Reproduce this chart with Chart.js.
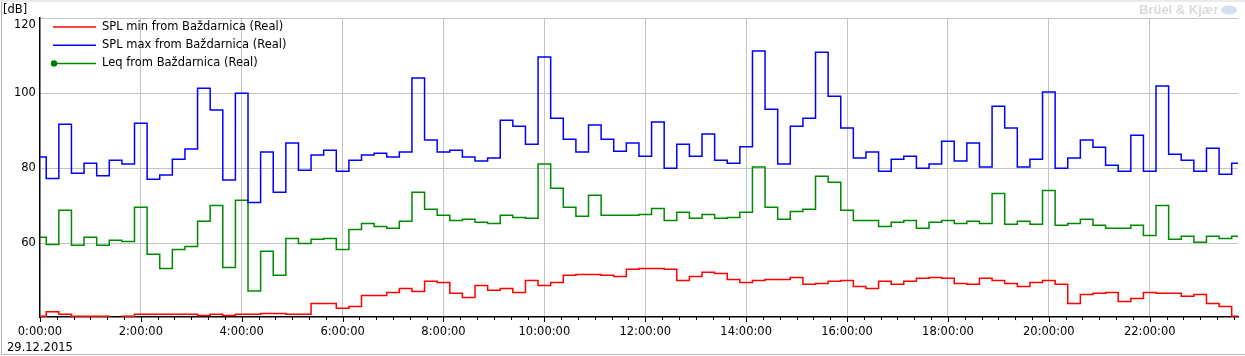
<!DOCTYPE html>
<html>
<head>
<meta charset="utf-8">
<title>SPL Baždarnica 29.12.2015</title>
<script src="https://cdn.jsdelivr.net/npm/chart.js@4.4.0/dist/chart.umd.min.js"></script>
<style>
    html, body { margin: 0; padding: 0; background: #fff; }
    #wrap { position: relative; width: 1245px; height: 356px; }
</style>
</head>
<body>
<div id="wrap"><canvas id="splChart" width="1245" height="356"></canvas></div>
<script>
// 15 minute intervals, day of 29.12.2015 (values in dB)
var dateLabel = "29.12.2015";
var unitLabel = "[dB]";
var stepMinutes = 15;
var yTicks = [60, 80, 100, 120];

var splMin = [
    40.6, 41.8, 41.1, 40.6, 40.6, 40.6, 40.2, 40.6, 41.1, 41.1, 41.1, 41.1,
    41.1, 40.8, 41.1, 40.8, 41.1, 41.1, 41.3, 41.3, 41.1, 41.1, 44.0, 44.0,
    42.7, 43.2, 46.1, 46.1, 46.9, 48.0, 47.2, 49.9, 49.6, 46.7, 45.6, 48.8,
    47.5, 48.0, 46.9, 50.1, 48.8, 49.6, 51.5, 51.7, 51.7, 51.5, 51.2, 53.1,
    53.3, 53.3, 53.1, 50.1, 51.2, 52.3, 52.0, 50.4, 49.6, 50.1, 50.4, 50.4,
    50.9, 49.1, 49.3, 49.9, 50.1, 48.5, 48.0, 49.9, 49.1, 49.9, 50.7, 50.9,
    50.7, 49.3, 49.1, 50.7, 50.1, 49.3, 48.5, 49.6, 50.1, 49.1, 44.0, 46.4,
    46.7, 46.9, 44.5, 45.3, 46.9, 46.7, 46.7, 45.9, 46.4, 44.0, 43.2, 40.6
];

var splMax = [
    83.0, 77.3, 91.7, 78.7, 81.3, 78.0, 82.1, 81.1, 92.0, 77.1, 78.2, 82.4,
    85.1, 101.3, 95.5, 76.9, 100.0, 70.9, 84.3, 73.6, 86.7, 79.5, 83.5, 84.8,
    79.2, 82.1, 83.5, 84.0, 83.0, 84.3, 104.0, 87.5, 84.3, 84.8, 83.0, 81.9,
    82.7, 92.8, 91.2, 86.4, 109.6, 93.3, 87.7, 84.3, 91.5, 87.7, 84.5, 86.7,
    83.2, 92.3, 80.0, 86.4, 83.2, 89.1, 82.1, 81.3, 85.7, 111.2, 95.7, 81.1,
    91.2, 93.3, 110.9, 99.2, 90.7, 82.7, 84.3, 79.2, 82.4, 83.2, 80.0, 81.1,
    87.2, 81.9, 86.7, 80.3, 96.5, 90.7, 80.3, 82.4, 100.3, 80.0, 82.7, 87.5,
    85.6, 80.8, 79.2, 88.8, 79.2, 101.9, 83.7, 82.1, 79.2, 85.3, 78.4, 81.3
];

var leq = [
    61.6, 59.7, 68.8, 59.5, 61.6, 59.5, 60.8, 60.5, 69.6, 57.1, 53.3, 58.4,
    59.2, 65.9, 70.1, 53.6, 71.5, 47.3, 57.9, 51.5, 61.3, 60.0, 61.1, 61.3,
    58.4, 63.7, 65.3, 64.5, 64.0, 65.9, 73.6, 69.1, 67.5, 66.1, 66.4, 65.6,
    65.3, 67.5, 66.9, 66.7, 81.1, 74.7, 69.6, 67.2, 72.8, 67.5, 67.5, 67.5,
    67.7, 69.3, 66.1, 68.3, 66.7, 67.7, 66.7, 66.9, 68.3, 80.3, 69.6, 66.4,
    68.5, 69.1, 77.9, 76.3, 68.8, 66.1, 66.1, 64.5, 65.6, 66.1, 64.0, 65.6,
    66.1, 65.3, 65.9, 65.3, 73.3, 65.1, 65.9, 65.1, 74.1, 64.8, 65.3, 66.4,
    64.8, 64.0, 64.0, 64.8, 62.1, 70.1, 61.1, 61.9, 60.3, 61.9, 61.3, 61.9
];

var seriesNames = [
    "SPL min from Baždarnica (Real)",
    "SPL max from Baždarnica (Real)",
    "Leq from Baždarnica (Real)"
];
var seriesColors = ["#ff0000", "#0000ff", "#008a00"];

var FONT = "DejaVu Sans";

function toPoints(values) {
    var pts = [];
    for (var i = 0; i < values.length; i++) {
        pts.push({ x: i * stepMinutes, y: values[i] });
    }
    return pts;
}

function timeLabel(minutes) {
    return Math.floor(minutes / 60) + ":00:00";
}

// legend in the top left corner of the plot, like the B&K software draws it
var bkLegend = {
    id: "bkLegend",
    afterDatasetsDraw: function (chart) {
        var ctx = chart.ctx;
        ctx.save();
        ctx.font = "11.5px '" + FONT + "'";
        ctx.textBaseline = "middle";
        ctx.textAlign = "left";
        chart.data.datasets.forEach(function (ds, i) {
            var y = 27 + i * 18.2;
            ctx.strokeStyle = ds.borderColor;
            ctx.lineWidth = 1.5;
            ctx.beginPath();
            ctx.moveTo(53, y);
            ctx.lineTo(96, y);
            ctx.stroke();
            if (i == 2) {
                ctx.fillStyle = "#007a00";
                ctx.beginPath();
                ctx.arc(54, y, 3.2, 0, Math.PI * 2);
                ctx.fill();
            }
            ctx.fillStyle = "#000";
            ctx.fillText(ds.label, 102, y);
        });
        ctx.restore();
    }
};

// frame, unit, watermark and the small ticks under the time axis
var decorations = {
    id: "decorations",
    beforeDraw: function (chart) {
        var ctx = chart.ctx;
        ctx.save();
        ctx.fillStyle = "#ebebeb";
        ctx.fillRect(0, 0, chart.width, 2);
        ctx.strokeStyle = "#b4b4b4";
        ctx.lineWidth = 1;
        ctx.beginPath();
        ctx.moveTo(1.5, 2);
        ctx.lineTo(1.5, 354.5);
        ctx.lineTo(chart.width, 354.5);
        ctx.stroke();

        ctx.fillStyle = "#000";
        ctx.font = "11.5px '" + FONT + "'";
        ctx.textBaseline = "middle";
        ctx.fillText(unitLabel, 3, 10);

        ctx.fillStyle = "#dadada";
        ctx.font = "bold 13px 'Liberation Sans'";
        ctx.fillText("Brüel & Kjær", 1139, 10);
        ctx.fillStyle = "#d3e0f2";
        ctx.beginPath();
        ctx.ellipse(1229, 10, 8, 4.5, 0, 0, Math.PI * 2);
        ctx.fill();
        ctx.restore();
    },
    afterDraw: function (chart) {
        var ctx = chart.ctx;
        var xs = chart.scales.x;
        var bottom = chart.chartArea.bottom;
        ctx.save();
        ctx.strokeStyle = "#000";
        ctx.lineWidth = 1;
        for (var m = 0; m <= xs.max; m += 20) {
            var px = Math.round(xs.getPixelForValue(m)) + 0.5;
            var len = (m % 120 == 0) ? 5 : 3;
            ctx.beginPath();
            ctx.moveTo(px, bottom);
            ctx.lineTo(px, bottom + len);
            ctx.stroke();
        }
        ctx.restore();
    }
};

var splChart = new Chart(document.getElementById("splChart"), {
    type: "line",
    data: {
        datasets: [
            { label: seriesNames[0], data: toPoints(splMin), borderColor: seriesColors[0] },
            { label: seriesNames[1], data: toPoints(splMax), borderColor: seriesColors[1] },
            { label: seriesNames[2], data: toPoints(leq), borderColor: seriesColors[2] }
        ]
    },
    options: {
        responsive: false,
        animation: false,
        events: [],
        layout: { padding: { top: 18, right: 0, left: 0, bottom: 0 } },
        elements: {
            line: { borderWidth: 1.5, stepped: "middle", tension: 0, fill: false },
            point: { radius: 0 }
        },
        plugins: {
            legend: { display: false },
            tooltip: { enabled: false }
        },
        scales: {
            x: {
                type: "linear",
                min: 0,
                max: (splMin.length - 1) * stepMinutes,
                afterFit: function (s) { s.height = 39; },
                grid: {
                    drawTicks: false,
                    color: function (c) {
                        return (c.tick && c.tick.value % 120 == 0) ? "#c4c4c4" : "rgba(0,0,0,0)";
                    }
                },
                border: { color: "#000", width: 1.5 },
                ticks: {
                    stepSize: 20,
                    autoSkip: false,
                    maxRotation: 0,
                    padding: 7,
                    color: "#000",
                    font: { family: FONT, size: 11.5, lineHeight: 1.4 },
                    callback: function (value) {
                        if (value % 120 != 0) return "";
                        if (value == 0) return [timeLabel(value), dateLabel];
                        return timeLabel(value);
                    }
                }
            },
            y: {
                min: 40.4,
                max: 120,
                afterFit: function (s) { s.width = 33; },
                afterBuildTicks: function (s) {
                    s.ticks = yTicks.map(function (v) { return { value: v }; });
                },
                grid: { drawTicks: false, color: "#c4c4c4" },
                border: { color: "#000", width: 1.5 },
                ticks: {
                    padding: 4,
                    color: "#000",
                    font: { family: FONT, size: 11.5, lineHeight: 1.2 },
                    // top label sits just below its grid line, as in the original
                    callback: function (value) {
                        if (value == 120) return ["", String(value)];
                        return String(value);
                    }
                }
            }
        }
    },
    plugins: [decorations, bkLegend]
});
</script>
</body>
</html>
